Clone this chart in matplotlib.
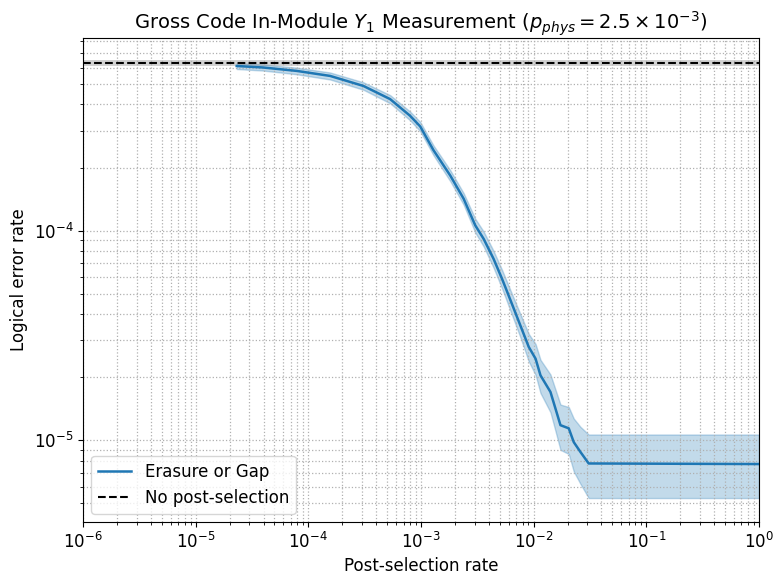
import matplotlib
matplotlib.use("Agg")
import matplotlib.pyplot as plt

# post-selection curve
rate = [2.31e-5, 3.98e-5, 7.88e-5, 1.56e-4, 3.08e-4, 5.32e-4, 8.0e-4, 9.84e-4,
        1.29e-3, 1.82e-3, 2.39e-3, 3.03e-3, 3.6e-3, 4.41e-3, 5.24e-3, 6.0e-3,
        7.62e-3, 9.04e-3, 1.04e-2, 1.15e-2, 1.41e-2, 1.56e-2, 1.73e-2, 2.05e-2,
        2.27e-2, 2.6e-2, 3.08e-2, 1.0]
ler = [6.1e-4, 6.0e-4, 5.78e-4, 5.47e-4, 4.9e-4, 4.24e-4, 3.53e-4, 3.14e-4,
       2.42e-4, 1.83e-4, 1.42e-4, 1.06e-4, 9.13e-5, 7.33e-5, 5.89e-5, 4.9e-5,
       3.53e-5, 2.79e-5, 2.45e-5, 2.04e-5, 1.70e-5, 1.42e-5, 1.18e-5, 1.14e-5,
       9.8e-6, 8.8e-6, 7.75e-6, 7.7e-6]
ler_lo = [5.9e-4, 5.8e-4, 5.57e-4, 5.26e-4, 4.7e-4, 4.05e-4, 3.36e-4, 2.98e-4,
          2.29e-4, 1.72e-4, 1.33e-4, 9.8e-5, 8.4e-5, 6.65e-5, 5.3e-5, 4.37e-5,
          3.1e-5, 2.38e-5, 2.05e-5, 1.68e-5, 1.36e-5, 1.11e-5, 9.0e-6, 8.6e-6,
          7.1e-6, 6.2e-6, 5.3e-6, 5.3e-6]
ler_hi = [6.3e-4, 6.2e-4, 5.99e-4, 5.68e-4, 5.1e-4, 4.43e-4, 3.7e-4, 3.3e-4,
          2.55e-4, 1.94e-4, 1.51e-4, 1.14e-4, 9.9e-5, 8.0e-5, 6.5e-5, 5.45e-5,
          4.0e-5, 3.22e-5, 2.88e-5, 2.42e-5, 2.06e-5, 1.75e-5, 1.48e-5, 1.44e-5,
          1.27e-5, 1.16e-5, 1.065e-5, 1.065e-5]

# no post-selection baseline
base = 6.3e-4
base_lo, base_hi = 6.07e-4, 6.52e-4

fig, ax = plt.subplots(figsize=(7.84, 5.84), dpi=100)
ax.plot(rate, ler, color="C0", lw=1.8, label="Erasure or Gap")
ax.fill_between(rate, ler_lo, ler_hi, color="C0", alpha=0.27, lw=1)
ax.axhline(base, color="black", ls="--", lw=1.5, label="No post-selection")
ax.axhspan(base_lo, base_hi, color="grey", alpha=0.35, lw=0)

ax.set_xscale("log")
ax.set_yscale("log")
ax.set_xlim(1e-6, 1)
ax.set_ylim(4.07e-6, 8.3e-4)
ax.grid(True, which="both", ls=":", color="#b0b0b0", lw=0.9)
ax.tick_params(labelsize=12)
ax.set_xlabel("Post-selection rate", fontsize=12)
ax.set_ylabel("Logical error rate", fontsize=12)
ax.set_title(r"Gross Code In-Module $Y_1$ Measurement ($p_{phys} = 2.5 \times 10^{-3}$)",
             fontsize=14)
ax.legend(loc="lower left", fontsize=12)
fig.subplots_adjust(left=0.106, right=0.968, top=0.935, bottom=0.106)
fig.savefig("out.png", dpi=100)
